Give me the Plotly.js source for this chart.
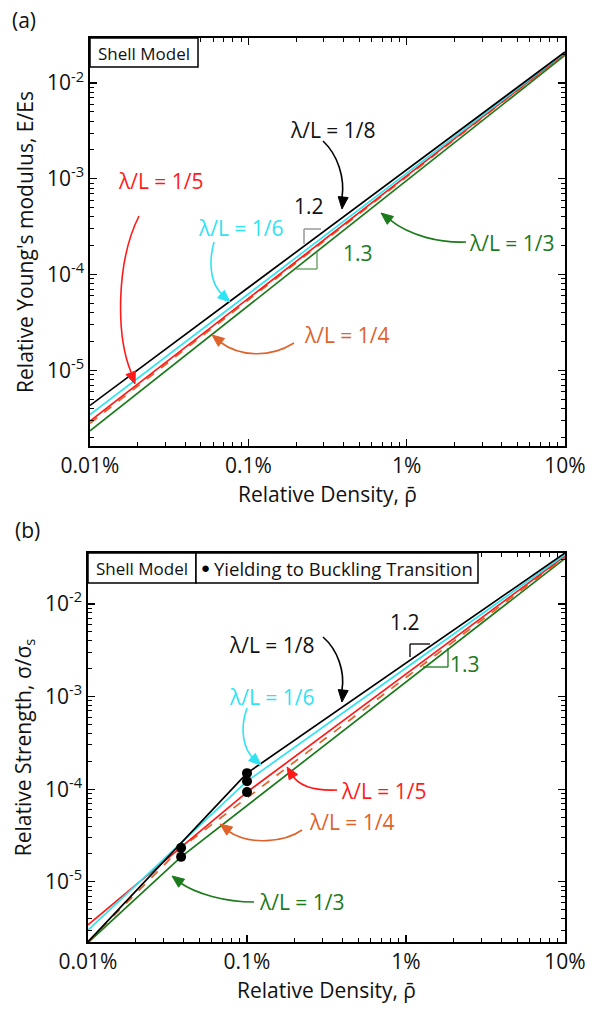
<!DOCTYPE html>
<html>
<head>
<meta charset="utf-8">
<script src="https://cdn.plot.ly/plotly-3.0.1.min.js"></script>
<style>html,body{margin:0;padding:0;background:#fff}#chart{width:592px;height:1010px}</style>
</head>
<body>
<div id="chart"></div>
<script>
// ---------- DATA ----------
const seriesNames = ["λ/L = 1/3", "λ/L = 1/4", "λ/L = 1/5", "λ/L = 1/6", "λ/L = 1/8"];
const seriesColors = ["#1b7a1b", "#e0622a", "#ff1a1a", "#30e3f2", "#000000"];
const seriesDash = ["solid", "dash", "solid", "solid", "solid"];

// (a) Relative Young's modulus (power laws -> straight on log-log)
const modDensity = [0.0001, 0.1];
const mod_1_3 = [2.33e-6, 0.0195];
const mod_1_4 = [2.8e-6, 0.0203];
const mod_1_5 = [2.95e-6, 0.0205];
const mod_1_6 = [3.45e-6, 0.0208];
const mod_1_8 = [4.3e-6, 0.0211];

// (b) Relative strength (yielding branch then buckling branch)
const str_1_3_x = [0.0001, 0.000385, 0.1];
const str_1_3_y = [2.2e-6, 1.86e-5, 0.031];
const str_1_4_x = [0.0001, 0.000385, 0.1];
const str_1_4_y = [2.25e-6, 2.33e-5, 0.032];
const str_1_5_x = [0.0001, 0.001, 0.1];
const str_1_5_y = [3.43e-6, 9.3e-5, 0.033];
const str_1_6_x = [0.0001, 0.001, 0.1];
const str_1_6_y = [3.0e-6, 1.22e-4, 0.034];
const str_1_8_x = [0.0001, 0.001, 0.1];
const str_1_8_y = [2.25e-6, 1.49e-4, 0.0355];

// Yielding-to-buckling transition points
const transX = [0.000385, 0.000385, 0.001, 0.001, 0.001];
const transY = [2.33e-5, 1.86e-5, 1.49e-4, 1.22e-4, 9.3e-5];

// Tick labels
const xTickVals = [0.0001, 0.001, 0.01, 0.1];
const xTickText = ["0.01%", "0.1%", "1%", "10%"];
const yTickVals = [1e-5, 1e-4, 1e-3, 1e-2];
const yTickText = ["10<sup>-5</sup>", "10<sup>-4</sup>", "10<sup>-3</sup>", "10<sup>-2</sup>"];

// ---------- LAYOUT HELPERS ----------
const W = 592, H = 1010;
const FONT = "Open Sans, Noto Sans, sans-serif";
const px = x => x / W;
const py = y => 1 - y / H;

const minorVals = [];
for (let e = -6; e <= -1; e++) for (let m = 2; m <= 9; m++) minorVals.push(m * Math.pow(10, e));

function axisBase(extra) {
  return Object.assign({
    type: "log",
    showline: true, linecolor: "#000", linewidth: 1.6, mirror: "allticks",
    ticks: "inside", ticklen: 7, tickwidth: 1.3, tickcolor: "#000",
    showgrid: false, zeroline: false,
    tickfont: {family: FONT, size: 21, color: "#111"},
    minor: {tickmode: "array", tickvals: minorVals, ticks: "inside", ticklen: 4, tickwidth: 1, tickcolor: "#000", showgrid: false}
  }, extra);
}

const mods = [mod_1_3, mod_1_4, mod_1_5, mod_1_6, mod_1_8];
const strX = [str_1_3_x, str_1_4_x, str_1_5_x, str_1_6_x, str_1_8_x];
const strY = [str_1_3_y, str_1_4_y, str_1_5_y, str_1_6_y, str_1_8_y];

const traces = [];
mods.forEach((m, i) => traces.push({
  x: modDensity, y: m, xaxis: "x", yaxis: "y", mode: "lines", name: seriesNames[i], showlegend: false,
  line: {color: seriesColors[i], width: 1.7, dash: seriesDash[i]}
}));
strY.forEach((s, i) => traces.push({
  x: strX[i], y: s, xaxis: "x2", yaxis: "y2", mode: "lines", name: seriesNames[i], showlegend: false,
  line: {color: seriesColors[i], width: 1.7, dash: seriesDash[i]}
}));
traces.push({
  x: transX, y: transY, xaxis: "x2", yaxis: "y2", mode: "markers", name: "Yielding to Buckling Transition",
  showlegend: false, marker: {color: "#000", size: 10}
});

// ---------- ANNOTATIONS / SHAPES ----------
const annotations = [];
const shapes = [];
function txt(t, x, y, color, size, extra) {
  annotations.push(Object.assign({
    text: t, x: px(x), y: py(y), xref: "paper", yref: "paper", showarrow: false,
    xanchor: "center", yanchor: "middle", font: {family: FONT, size: size || 21, color: color}
  }, extra || {}));
}
function P(x, y) { return px(x).toFixed(5) + "," + py(y).toFixed(5); }
function curveArrow(c, color) {
  // c = [x0,y0, c1x,c1y, c2x,c2y, x1,y1, tipx,tipy]
  shapes.push({type: "path", xref: "paper", yref: "paper",
    path: "M" + P(c[0], c[1]) + " C" + P(c[2], c[3]) + " " + P(c[4], c[5]) + " " + P(c[6], c[7]),
    line: {color: color, width: 1.6}});
  const tx = c[8], ty = c[9];
  let dx = tx - c[4], dy = ty - c[5];
  const n = Math.hypot(dx, dy); dx /= n; dy /= n;
  const L = 12, hw = 5;
  const bx = tx - dx * L, by = ty - dy * L;
  shapes.push({type: "path", xref: "paper", yref: "paper",
    path: "M" + P(tx, ty) + " L" + P(bx - dy * hw, by + dx * hw) + " L" + P(bx + dy * hw, by - dx * hw) + " Z",
    fillcolor: color, line: {color: color, width: 1}});
}
function seg(x0, y0, x1, y1, color, w) {
  shapes.push({type: "line", xref: "paper", yref: "paper", x0: px(x0), y0: py(y0), x1: px(x1), y1: py(y1),
    line: {color: color, width: w || 1.3}});
}
function box(x0, y0, x1, y1) {
  shapes.push({type: "rect", xref: "paper", yref: "paper", x0: px(x0), y0: py(y0), x1: px(x1), y1: py(y1),
    fillcolor: "#fff", line: {color: "#000", width: 1.5}});
}

const C = seriesColors;
// panel labels
txt("(a)", 24, 20, "#111", 21);
txt("(b)", 27, 530, "#111", 21);

// (a)
box(90, 38, 198, 67);
txt("Shell Model", 144, 53, "#111", 17);
txt(seriesNames[4], 333, 130, "#111");
txt(seriesNames[2], 161, 181, C[2]);
txt(seriesNames[3], 241, 228, C[3]);
txt(seriesNames[0], 512, 243, C[0]);
txt(seriesNames[1], 347, 335, C[1]);
txt("1.2", 309, 206, "#111");
txt("1.3", 358, 253, C[0]);
seg(304, 229, 321, 229, "#888"); seg(304, 229, 304, 244, "#888");
seg(317, 252, 317, 269, "#5b9b5b"); seg(296, 269, 317, 269, "#5b9b5b");
curveArrow([323, 141, 338, 155, 345, 178, 342, 198, 342, 209], "#000");
curveArrow([466, 242, 440, 243, 410, 236, 390, 220, 381, 213], C[0]);
curveArrow([139, 216, 116, 262, 116, 335, 131, 372, 135, 384], C[2]);
curveArrow([214, 242, 207, 268, 213, 287, 223, 295, 230, 302], C[3]);
curveArrow([294, 343, 270, 358, 240, 357, 220, 342, 212, 335], C[1]);

// (b)
box(88, 553, 196, 583);
box(196, 553, 478, 583);
txt("Shell Model", 142, 568, "#111", 17);
txt("●", 205, 567, "#000", 15);
txt("Yielding to Buckling Transition", 212, 568, "#111", 18.5, {xanchor: "left"});
txt(seriesNames[4], 272, 645, "#111");
txt(seriesNames[3], 272, 697, C[3]);
txt(seriesNames[2], 384, 791, C[2]);
txt(seriesNames[1], 352, 822, C[1]);
txt(seriesNames[0], 302, 902, C[0]);
txt("1.2", 405, 622, "#111");
txt("1.3", 465, 664, C[0]);
seg(410, 644, 430, 644, "#000"); seg(410, 644, 410, 657, "#000");
seg(448, 648, 448, 667, C[0]); seg(423, 667, 448, 667, C[0]);
curveArrow([323, 637, 338, 650, 345, 672, 342, 690, 342, 702], "#000");
curveArrow([247, 708, 239, 730, 244, 750, 254, 759, 261, 765], C[3]);
curveArrow([337, 790, 315, 791, 299, 786, 292, 775, 287, 767], C[2]);
curveArrow([302, 830, 285, 842, 250, 846, 228, 831, 220, 824], C[1]);
curveArrow([254, 902, 225, 902, 196, 894, 179, 882, 172, 876], C[0]);

const titleFont = {family: FONT, size: 21, color: "#111"};
const layout = {
  width: W, height: H,
  margin: {l: 0, r: 0, t: 0, b: 0},
  paper_bgcolor: "#fff", plot_bgcolor: "#fff",
  showlegend: false,
  xaxis: axisBase({domain: [px(90), px(565)], range: [-4, -1], anchor: "y",
    tickmode: "array", tickvals: xTickVals, ticktext: xTickText,
    title: {text: "Relative Density, ρ̄", font: titleFont, standoff: 9}}),
  yaxis: axisBase({domain: [py(446), py(38)], range: [-5.79, -1.53], anchor: "x",
    tickmode: "array", tickvals: yTickVals, ticktext: yTickText,
    title: {text: "Relative Young's modulus, E/Es", font: titleFont, standoff: 8}}),
  xaxis2: axisBase({domain: [px(88), px(565)], range: [-4, -1], anchor: "y2",
    tickmode: "array", tickvals: xTickVals, ticktext: xTickText,
    title: {text: "Relative Density, ρ̄", font: titleFont, standoff: 9}}),
  yaxis2: axisBase({domain: [py(942), py(553)], range: [-5.65, -1.45], anchor: "x2",
    tickmode: "array", tickvals: yTickVals, ticktext: yTickText,
    title: {text: "Relative Strength, σ/σ<sub>s</sub>", font: titleFont, standoff: 8}}),
  annotations: annotations,
  shapes: shapes
};

Plotly.newPlot("chart", traces, layout, {displayModeBar: false, staticPlot: true});
</script>
</body>
</html>
